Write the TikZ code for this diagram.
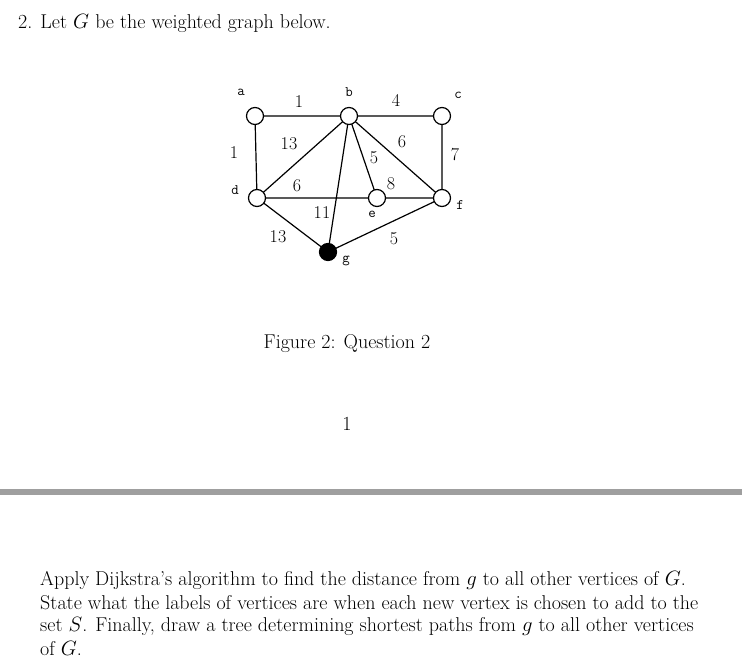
\documentclass[tikz,border=0pt]{standalone}
\usepackage{fontspec}
\begin{document}
\begin{tikzpicture}[x=1pt,y=-1pt,
 v/.style={circle,draw,line width=1.2pt,fill=white,minimum size=17pt,inner sep=0pt},
 e/.style={line width=1.2pt},
 w/.style={font=\fontsize{18}{18}\selectfont},
 lb/.style={font=\fontsize{14.5}{14.5}\selectfont\ttfamily},
 ln/.style={anchor=west,text width=660pt,align=justify,inner sep=0pt,font=\fontsize{20}{24}\selectfont}]
\useasboundingbox (0,0) rectangle (742,671);
\node[anchor=west,inner sep=0pt,font=\fontsize{20}{24}\selectfont] (t) at (18,23) {2. Let $G$ be the weighted graph below.};
\coordinate (A) at (255,116); \coordinate (B) at (349,116); \coordinate (C) at (442,116);
\coordinate (D) at (257,198); \coordinate (E) at (377,198); \coordinate (F) at (442,198); \coordinate (G) at (328,252);
\draw[e] (A)--(B)--(C)--(F) (A)--(D)--(E)--(F) (B)--(D) (B)--(E) (B)--(F) (B)--(G) (D)--(G)--(F);
\node[v] (a) at (A) {}; \node[v] (b) at (B) {}; \node[v] (c) at (C) {};
\node[v] (d) at (D) {}; \node[v] (e) at (E) {}; \node[v] (f) at (F) {};
\node[v,fill=black] (g) at (G) {};
\node[lb] (la) at (241,92) {a}; \node[lb] (lb) at (349,92) {b}; \node[lb] (lc) at (458,95) {c};
\node[lb] (ld) at (235,190) {d}; \node[lb] (le) at (372,214) {e}; \node[lb] (lf) at (460,205) {f}; \node[lb] (lg) at (346,261) {g};
\node[w] at (299,102) {1}; \node[w] at (396,100) {4}; \node[w] at (234,153) {1};
\node[w] at (289,144) {13}; \node[w] at (402,142) {6}; \node[w] at (374,158) {5};
\node[w] at (455,155) {7}; \node[w] at (297,186) {6}; \node[w] at (391,184) {8};
\node[w] at (322,213) {11}; \node[w] at (278,237) {13}; \node[w] at (394,239) {5};
\node[font=\fontsize{20}{24}\selectfont] (cap) at (347,344) {Figure 2: Question 2};
\node[font=\fontsize{20}{24}\selectfont] (pg) at (347,424) {1};
\fill[gray!75] (0,489) rectangle (742,495);
\node[ln] (l1) at (40,580) {\parfillskip=0pt Apply Dijkstra's algorithm to find the distance from $g$ to all other vertices of $G$.};
\node[ln] (l2) at (40,603) {\parfillskip=0pt State what the labels of vertices are when each new vertex is chosen to add to the};
\node[ln] (l3) at (40,626) {\parfillskip=0pt set $S$. Finally, draw a tree determining shortest paths from $g$ to all other vertices};
\node[ln] (l4) at (40,648) {of $G$.};
\end{tikzpicture}
\end{document}
